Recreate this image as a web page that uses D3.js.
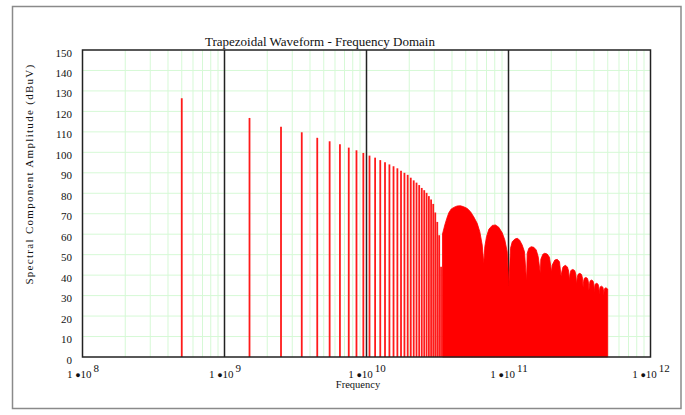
<!DOCTYPE html>
<html>
<head>
<meta charset="utf-8">
<script src="https://cdn.jsdelivr.net/npm/d3@7"></script>
<style>
  body { margin: 0; background: #fff; }
  text { font-family: "Liberation Serif", "Times New Roman", serif; }
</style>
</head>
<body>
<script>
// spectrum of a trapezoidal pulse train

var chartTitle = "Trapezoidal Waveform - Frequency Domain";
var yTitle = "Spectral Component Amplitude (dBuV)";
var xTitle = "Frequency";

var yTicks = [0, 10, 20, 30, 40, 50, 60, 70, 80, 90, 100, 110, 120, 130, 140, 150];
var xDecades = [8, 9, 10, 11, 12];

// separate harmonic lines (GHz, dBuV)
var lineGHz = [0.5, 1.5, 2.5, 3.5, 4.5, 5.5, 6.5, 7.5, 8.5, 9.5, 10.5, 11.5, 12.5, 13.5,
  14.5, 15.5, 16.5, 17.5, 18.5, 19.5, 20.5, 21.5, 22.5, 23.5, 24.5, 25.5, 26.5, 27.5,
  28.5, 29.5, 30.5, 31.5, 32.5, 33.5];
var lineDb = [126.4, 116.8, 112.5, 109.8, 107.1, 105.4, 103.9, 102.3, 101.0, 99.7, 98.4,
  97.4, 96.2, 95.1, 94.1, 93.2, 92.2, 91.0, 90.0, 89.0, 87.6, 86.3, 85.2, 84.0, 82.6,
  81.5, 80.2, 78.6, 77.0, 74.8, 70.6, 66.0, 59.5, 44.1];

// dense part: lines merge into a solid band, envelope
var denseGHz = [34.3, 35.6, 36.8, 38.0, 39.5, 41.2, 43.5, 45.9, 48.4, 51.2, 54.0, 56.9,
  60.2, 62.8, 65.3, 67.0, 68.1, 70.0, 72.7, 76.8, 81.0, 85.4, 90.3, 94.2, 97.9, 100.5,
  103.3, 106.2, 110.8, 115.2, 119.5, 124.9, 129.6, 134.0, 135.4, 139.0, 144.5, 150.8,
  156.8, 161.9, 167.5, 168.9, 174.5, 180.1, 187.3, 194.4, 201.0, 203.1, 211.9, 220.3,
  228.6, 234.5, 238, 242, 251, 260, 265, 268, 271, 275, 284, 293, 298, 301.5, 305, 309,
  318, 327, 332, 335, 338, 342, 351, 360, 365, 368.5, 372, 376, 385, 394, 399, 402, 405,
  409, 418, 427, 432, 435.5, 439, 443, 452, 461, 466, 469, 472, 476, 485, 494, 499.5];
var denseDb = [60.1, 64.5, 67.8, 70.5, 72.3, 73.1, 73.8, 73.9, 73.4, 72.6, 71.0, 68.5,
  65.3, 61.2, 54.7, 45.8, 53.9, 58.8, 62.4, 64.3, 64.5, 63.4, 60.7, 57.2, 51.4, 34.7,
  53.1, 56.3, 57.6, 58.0, 57.2, 54.7, 51.4, 37.0, 50.6, 53.1, 53.9, 53.6, 52.3, 49.0,
  40.9, 47.7, 50.2, 50.7, 50.3, 48.7, 41.5, 44.9, 47.4, 47.7, 46.6, 39.5, 42.0, 44.0,
  44.8, 44.0, 42.0, 37.5, 40.5, 42.3, 42.8, 42.2, 40.3, 35.5, 38.8, 40.4, 40.9, 40.3,
  38.5, 34.0, 37.0, 38.5, 38.9, 38.4, 36.8, 32.5, 35.8, 37.2, 37.6, 37.1, 35.6, 31.5,
  34.6, 35.7, 36.0, 35.6, 34.3, 30.5, 33.4, 34.3, 34.6, 34.2, 33.0, 30.0, 32.6, 33.5,
  33.8, 33.5, 33.2];

var width = 685, height = 415;
var svg = d3.select("body").append("svg")
    .attr("width", width).attr("height", height);

// outer frame
svg.append("rect")
    .attr("x", 12.5).attr("y", 6.5).attr("width", 668.5).attr("height", 402)
    .attr("fill", "none").attr("stroke", "#8a8a8a").attr("stroke-width", 1.5);

var x = d3.scaleLog().domain([1e8, 1e12]).range([82.5, 650.5]);
var y = d3.scaleLinear().domain([0, 150]).range([357, 50]);

var g = svg.append("g");
var gridColor = "#d6f9d6";

// light green grid
g.selectAll(".hgrid").data(yTicks.filter(function(d) { return d > 0 && d < 150; }))
  .enter().append("line")
    .attr("x1", x(1e8)).attr("x2", x(1e12))
    .attr("y1", function(d) { return y(d); }).attr("y2", function(d) { return y(d); })
    .attr("stroke", gridColor).attr("stroke-width", 1);

var minor = x.ticks().filter(function(d) {
  var m = Math.round(d / Math.pow(10, Math.floor(Math.log10(d) + 1e-9)));
  return m > 1;
});
g.selectAll(".vgrid").data(minor)
  .enter().append("line")
    .attr("x1", function(d) { return x(d); }).attr("x2", function(d) { return x(d); })
    .attr("y1", y(0)).attr("y2", y(150))
    .attr("stroke", gridColor).attr("stroke-width", 1);

// decade lines
g.selectAll(".dgrid").data(xDecades.slice(1, -1))
  .enter().append("line")
    .attr("x1", function(d) { return x(Math.pow(10, d)); })
    .attr("x2", function(d) { return x(Math.pow(10, d)); })
    .attr("y1", y(0)).attr("y2", y(150))
    .attr("stroke", "#222").attr("stroke-width", 1.5);

// spectral lines
var lines = lineGHz.map(function(f, i) { return {f: f * 1e9, v: lineDb[i]}; });
g.selectAll(".spec").data(lines)
  .enter().append("line")
    .attr("x1", function(d) { return x(d.f); }).attr("x2", function(d) { return x(d.f); })
    .attr("y1", y(0)).attr("y2", function(d) { return y(d.v); })
    .attr("stroke", "#ff1a1a").attr("stroke-width", 1.8);

var dense = denseGHz.map(function(f, i) { return {f: f * 1e9, v: denseDb[i]}; });
var band = d3.area()
    .x(function(d) { return x(d.f); })
    .y0(y(0))
    .y1(function(d) { return y(d.v); });
g.append("path").datum(dense)
    .attr("fill", "#ff0000").attr("stroke", "#ff0000").attr("stroke-width", 0.8)
    .attr("d", band);

// plot frame
g.append("rect")
    .attr("x", x(1e8)).attr("y", y(150))
    .attr("width", x(1e12) - x(1e8)).attr("height", y(0) - y(150))
    .attr("fill", "none").attr("stroke", "#222").attr("stroke-width", 1.5);

// y axis
var yAxis = svg.append("g")
    .attr("transform", "translate(72,0)")
    .call(d3.axisLeft(y).tickValues(yTicks).tickSize(0).tickPadding(0));
yAxis.select(".domain").remove();
yAxis.selectAll("text")
    .attr("font-family", "Liberation Serif, serif")
    .attr("font-size", 11).attr("fill", "#111")
    .attr("dy", "0.55em");

// x axis labels  1 •10^n
var xAxis = svg.append("g")
    .attr("transform", "translate(0," + y(0) + ")")
    .call(d3.axisBottom(x).tickValues(xDecades.map(function(d) { return Math.pow(10, d); }))
      .tickFormat("").tickSize(0));
xAxis.select(".domain").remove();
xAxis.selectAll(".tick").each(function(d) {
  var t = d3.select(this).append("text")
      .attr("y", 21).attr("x", 0)
      .attr("fill", "#111").attr("font-size", 11)
      .attr("text-anchor", "middle");
  t.append("tspan").text("1 ");
  t.append("tspan").attr("font-size", 9).text("\u25CF");
  t.append("tspan").text("10");
  t.append("tspan").attr("dy", -6).attr("dx", 2).text(Math.round(Math.log10(d)));
});

svg.append("text")
    .attr("x", 358).attr("y", 388)
    .attr("text-anchor", "middle").attr("font-size", 10.5).attr("fill", "#111")
    .text(xTitle);

svg.append("text")
    .attr("transform", "translate(33,174) rotate(-90)")
    .attr("text-anchor", "middle").attr("font-size", 11).attr("fill", "#111")
    .attr("letter-spacing", 1.3)
    .text(yTitle);

svg.append("text")
    .attr("x", 320).attr("y", 46)
    .attr("text-anchor", "middle").attr("font-size", 13).attr("fill", "#111")
    .text(chartTitle);
</script>
</body>
</html>
